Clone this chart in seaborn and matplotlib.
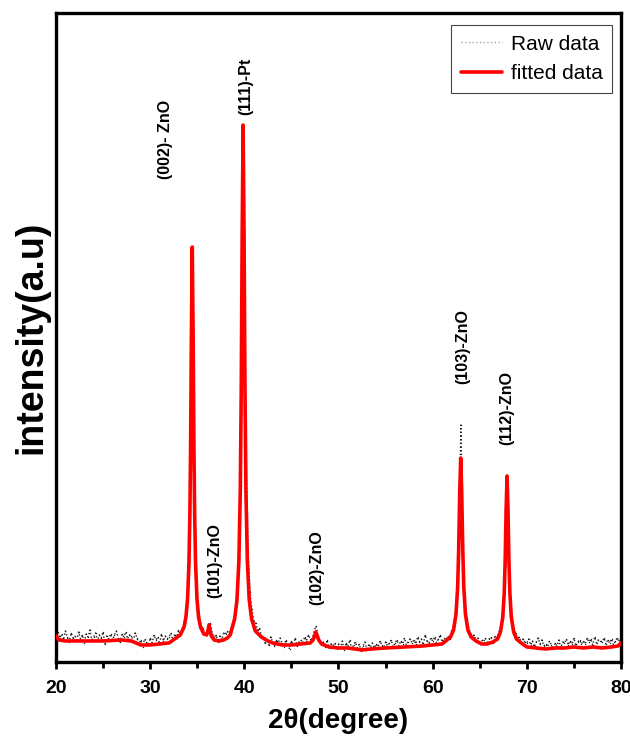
import numpy as np
import pandas as pd
import matplotlib
matplotlib.use("Agg")
import matplotlib.pyplot as plt
import seaborn as sns

# ---- data (intensity in arbitrary units) ----
fit_2theta = [20.0, 20.3, 21.0, 23.0, 25.0, 27.0, 28.0, 29.0, 30.0, 31.0, 32.0, 33.2, 33.6,
              33.8, 33.97, 34.12, 34.22, 34.295, 34.37, 34.47, 34.57, 34.645, 34.72, 34.82,
              34.97, 35.14, 35.34, 35.7, 36.0, 36.15, 36.25, 36.35, 36.5, 36.8, 37.3, 37.8,
              38.2, 38.5, 38.97, 39.22, 39.42, 39.57, 39.67, 39.77, 39.87, 39.97, 40.07,
              40.17, 40.32, 40.52, 40.77, 41.17, 41.8, 42.5, 43.0, 44.0, 45.0, 46.0, 47.0,
              47.3, 47.5, 47.6, 47.7, 47.9, 48.2, 49.0, 50.0, 51.0, 52.5, 53.5, 55.0, 57.0,
              59.0, 60.0, 61.0, 61.4, 61.9, 62.22, 62.48, 62.65, 62.76, 62.88, 62.98, 63.08,
              63.2, 63.31, 63.48, 63.74, 64.08, 64.6, 65.2, 65.8, 66.4, 66.9, 67.2, 67.45,
              67.6, 67.7, 67.8, 67.9, 68.0, 68.1, 68.2, 68.35, 68.6, 68.9, 69.4, 70.0, 71.0,
              72.0, 73.0, 74.0, 75.0, 76.0, 77.0, 78.0, 79.0, 79.7, 80.0]
fit_int = [26, 22, 21, 21, 21, 22, 21, 17, 17, 18, 19, 27, 35,
           45, 63, 99, 150, 217, 318, 415, 318, 217, 150, 99,
           63, 45, 35, 28, 27, 32, 37, 32, 26, 22, 21, 22,
           24, 27, 43, 62, 101, 171, 270, 427, 537, 427, 270,
           171, 101, 62, 43, 31, 25, 21, 19, 17, 17, 18, 19,
           22, 27, 30, 27, 22, 18, 15, 14, 14, 12, 13, 14, 15,
           16, 17, 18, 21, 25, 32, 48, 74, 111, 172, 204, 172,
           111, 74, 48, 32, 25, 21, 18, 18, 20, 23, 30, 45,
           69, 101, 152, 186, 152, 101, 69, 45, 30, 23, 19, 15, 14,
           13, 14, 14, 15, 14, 15, 14, 15, 16, 19]

raw_start, raw_step = 20.0, 0.2
raw_int = [
    27, 30, 24, 28, 22, 31, 25, 20, 29, 24,
    26, 22, 30, 23, 27, 19, 28, 25, 32, 22,
    25, 29, 21, 27, 24, 30, 18, 26, 23, 28,
    22, 27, 31, 24, 20, 28, 25, 30, 23, 27,
    26, 21, 29, 24, 18, 22, 15, 23, 20, 17,
    24, 19, 27, 22, 25, 18, 28, 21, 26, 23,
    25, 29, 22, 27, 24, 32, 27, 34, 38, 50,
    72, 152, 382, 298, 118, 64, 47, 36, 34, 28,
    30, 38, 39, 28, 25, 27, 20, 26, 22, 29,
    28, 31, 27, 34, 40, 48, 70, 104, 212, 470,
    372, 205, 110, 70, 53, 41, 39, 32, 34, 27,
    24, 19, 23, 17, 25, 20, 16, 22, 19, 24,
    19, 15, 22, 18, 13, 21, 17, 24, 16, 20,
    22, 19, 25, 21, 27, 23, 23, 30, 36, 27,
    21, 17, 20, 15, 22, 14, 18, 16, 19, 13,
    18, 14, 21, 12, 19, 15, 22, 13, 17, 20,
    14, 18, 11, 16, 20, 13, 17, 15, 19, 14,
    18, 15, 21, 17, 14, 20, 16, 19, 22, 15,
    19, 22, 16, 21, 18, 24, 17, 20, 23, 19,
    22, 18, 25, 20, 23, 17, 27, 21, 19, 24,
    21, 25, 19, 23, 27, 20, 24, 22, 26, 23,
    31, 36, 47, 68, 135, 237, 118, 63, 44, 35,
    29, 26, 27, 21, 24, 18, 22, 20, 24, 18,
    23, 25, 19, 26, 24, 29, 34, 46, 74, 158,
    160, 73, 45, 34, 29, 24, 25, 19, 23, 20,
    19, 23, 17, 21, 15, 20, 24, 18, 22, 16,
    18, 15, 21, 17, 13, 19, 16, 22, 14, 20,
    19, 23, 17, 21, 18, 24, 16, 20, 22, 18,
    21, 18, 24, 20, 23, 17, 25, 19, 22, 21,
    20, 24, 18, 22, 19, 23, 17, 21, 24, 20,
    23]
raw_2theta = [round(raw_start + i * raw_step, 2) for i in range(len(raw_int))]

peak_labels = ["(002)- ZnO", "(101)-ZnO", "(111)-Pt", "(102)-ZnO", "(103)-ZnO", "(112)-ZnO"]
label_x = [31.6, 36.9, 40.1, 47.7, 63.2, 67.9]
label_y = [523, 101, 576, 94, 315, 254]

x_ticks = [20, 30, 40, 50, 60, 70, 80]
x_minor = [25, 35, 45, 55, 65, 75]

# ---- plot ----
sns.set_style("ticks")
plt.rcParams['font.family'] = ['Liberation Sans', 'DejaVu Sans']

fig = plt.figure(figsize=(6.3, 7.49), dpi=100)
ax = fig.add_axes([0.0889, 0.1162, 0.8968, 0.8664])

raw_df = pd.DataFrame({"x": raw_2theta, "y": raw_int})
fit_df = pd.DataFrame({"x": fit_2theta, "y": fit_int})

sns.lineplot(data=raw_df, x="x", y="y", ax=ax, color="#222222", linestyle=":",
             linewidth=1.0, marker=".", markersize=2.0, markeredgewidth=0,
             label="Raw data", zorder=2)
sns.lineplot(data=fit_df, x="x", y="y", ax=ax, color="#ff0000", linewidth=2.6,
             label="fitted data", zorder=3)

for t, xx, yy in zip(peak_labels, label_x, label_y):
    ax.text(xx, yy, t, rotation=90, ha="center", va="center", fontsize=11.5,
            fontweight="bold", color="black")

ax.set_xlim(20, 80)
ax.set_ylim(0, 649)
ax.set_xticks(x_ticks)
ax.set_xticks(x_minor, minor=True)
ax.set_yticks([])
ax.tick_params(axis="x", which="major", direction="out", length=5, width=2,
               labelsize=14, pad=8, colors="black", labelcolor="black")
ax.tick_params(axis="x", which="minor", direction="out", length=4, width=2, colors="black")
for lab in ax.get_xticklabels():
    lab.set_fontweight("bold")
for sp in ax.spines.values():
    sp.set_visible(True)
    sp.set_linewidth(2.4)
    sp.set_color("black")

ax.set_xlabel("2θ(degree)", fontsize=20, fontweight="bold", labelpad=8, color="black")
ax.set_ylabel("intensity(a.u)", fontsize=27, fontweight="bold", labelpad=5, color="black")

leg = ax.legend(loc="upper right", bbox_to_anchor=(0.984, 0.981), borderaxespad=0,
                fontsize=15, frameon=True, fancybox=False, edgecolor="#444444",
                framealpha=1, handlelength=2.0, borderpad=0.45, labelspacing=0.5,
                handletextpad=0.4)
leg.get_frame().set_linewidth(0.8)
h_raw = leg.get_lines()[0]
h_raw.set_color("#aaaaaa")
h_raw.set_linewidth(1.0)
h_raw.set_marker("")
for txt in leg.get_texts():
    txt.set_color("black")

fig.savefig("out.png", dpi=100)
